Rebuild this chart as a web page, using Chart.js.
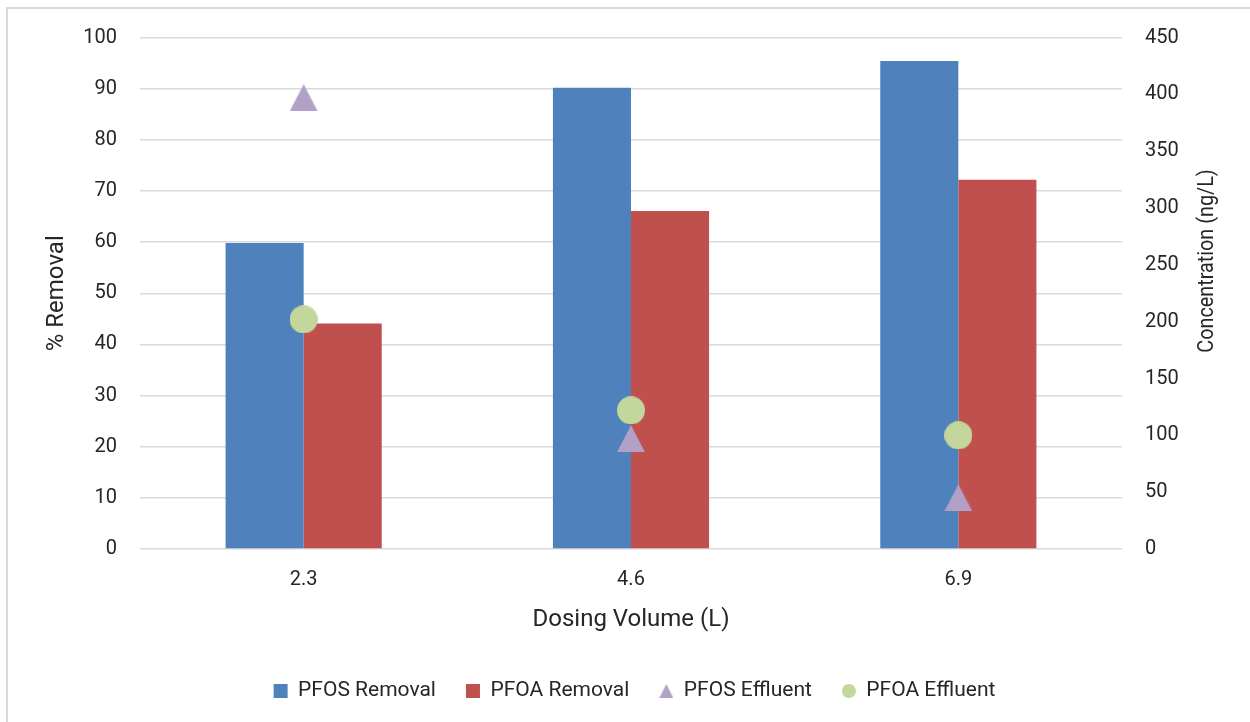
<!DOCTYPE html>
<html><head><meta charset="utf-8">
<script src="https://cdn.jsdelivr.net/npm/chart.js@4"></script>
<style>html,body{margin:0;padding:0;background:#fff}#wrap{width:1250px;height:722px;position:relative}</style>
</head><body><div id="wrap"><canvas id="c"></canvas></div>
<script>
const categories = ['2.3', '4.6', '6.9'];
const pfosRemoval = [59.8, 90.2, 95.4];
const pfoaRemoval = [44.1, 66.1, 72.2];
const pfosEffluent = [397, 97, 45];
const pfoaEffluent = [202, 122, 100];
const seriesNames = ['PFOS Removal', 'PFOA Removal', 'PFOS Effluent', 'PFOA Effluent'];
const leftAxis = {min: 0, max: 100, step: 10, title: '% Removal'};
const rightAxis = {min: 0, max: 450, step: 50, title: 'Concentration (ng/L)'};
const xTitle = 'Dosing Volume (L)';

const C_BLUE = '#4F81BD', C_RED = '#C0504D', C_PURPLE = '#B2A1C7', C_GREEN = '#C3D69B';
const FONT = 'Roboto, "Open Sans", sans-serif';
const TXT = '#262626';

function triCanvas(w, h, color) {
  const c = document.createElement('canvas'); c.width = w; c.height = h;
  const x = c.getContext('2d'); x.fillStyle = color;
  x.beginPath(); x.moveTo(w / 2, 0); x.lineTo(w, h); x.lineTo(0, h); x.closePath(); x.fill();
  return c;
}
function circCanvas(d, color) {
  const c = document.createElement('canvas'); c.width = d; c.height = d;
  const x = c.getContext('2d'); x.fillStyle = color;
  x.beginPath(); x.arc(d / 2, d / 2, d / 2, 0, Math.PI * 2); x.fill();
  return c;
}
const triBig = triCanvas(28, 27, C_PURPLE);
const circBig = circCanvas(28, C_GREEN);
const triSmall = triCanvas(14, 14, C_PURPLE);
const circSmall = circCanvas(14, C_GREEN);

const frame = {
  id: 'frame',
  beforeDraw(chart) {
    const ctx = chart.ctx;
    ctx.save();
    ctx.fillStyle = '#fff'; ctx.fillRect(0, 0, chart.width, chart.height);
    ctx.strokeStyle = '#d9d9d9'; ctx.lineWidth = 2;
    ctx.beginPath(); ctx.moveTo(7, 800); ctx.lineTo(7, 8); ctx.lineTo(1300, 8); ctx.stroke();
    ctx.restore();
  },
  afterDraw(chart) {
    const ctx = chart.ctx;
    ctx.save();
    ctx.translate(1207, 261);
    ctx.rotate(-Math.PI / 2);
    ctx.scale(0.9, 1);
    ctx.fillStyle = TXT;
    ctx.font = '22px ' + FONT;
    ctx.textAlign = 'center'; ctx.textBaseline = 'middle';
    ctx.fillText(rightAxis.title, 0, 0);
    ctx.restore();
  }
};

new Chart(document.getElementById('c'), {
  data: {
    labels: categories,
    datasets: [
      {type: 'bar', label: seriesNames[0], data: pfosRemoval, backgroundColor: C_BLUE, yAxisID: 'y', order: 2,
       barPercentage: 1, categoryPercentage: 0.477},
      {type: 'bar', label: seriesNames[1], data: pfoaRemoval, backgroundColor: C_RED, yAxisID: 'y', order: 2,
       barPercentage: 1, categoryPercentage: 0.477},
      {type: 'line', label: seriesNames[2], data: pfosEffluent, yAxisID: 'y1', showLine: false, order: 1,
       pointStyle: triBig, backgroundColor: C_PURPLE, borderColor: C_PURPLE, pointRadius: 14, pointHoverRadius: 14},
      {type: 'line', label: seriesNames[3], data: pfoaEffluent, yAxisID: 'y1', showLine: false, order: 0,
       pointStyle: circBig, backgroundColor: C_GREEN, borderColor: C_GREEN, pointRadius: 14, pointHoverRadius: 14}
    ]
  },
  options: {
    responsive: true, maintainAspectRatio: false, animation: false,
    layout: {padding: {top: 37.5, left: 19, right: 0, bottom: 10.5}},
    plugins: {
      tooltip: {enabled: false},
      legend: {
        position: 'bottom',
        labels: {
          usePointStyle: true, boxWidth: 14, boxHeight: 14, padding: 30,
          font: {family: FONT, size: 21}, color: TXT,
          generateLabels(chart) {
            const styles = ['rect', 'rect', triSmall, circSmall];
            const cols = [C_BLUE, C_RED, C_PURPLE, C_GREEN];
            return chart.data.datasets.map((d, i) => ({
              text: d.label, fillStyle: cols[i], strokeStyle: cols[i], lineWidth: 0,
              pointStyle: styles[i], datasetIndex: i, hidden: false, fontColor: TXT
            }));
          }
        }
      }
    },
    scales: {
      x: {
        grid: {display: false}, border: {display: false},
        ticks: {font: {family: FONT, size: 20}, color: TXT, padding: 11},
        title: {display: true, text: xTitle, font: {family: FONT, size: 24}, color: TXT, padding: {top: 0, bottom: 16}},
        afterFit(s) { s.height = 101.5; }
      },
      y: {
        position: 'left', min: leftAxis.min, max: leftAxis.max,
        grid: {color: '#d9d9d9', lineWidth: 1.5, drawTicks: false}, border: {display: false},
        ticks: {stepSize: leftAxis.step, font: {family: FONT, size: 20}, color: TXT, padding: 23},
        title: {display: true, text: leftAxis.title, font: {family: FONT, size: 24}, color: TXT, padding: {top: 24, bottom: 0}},
        afterFit(s) { s.width = 121; }
      },
      y1: {
        position: 'right', min: rightAxis.min, max: rightAxis.max,
        grid: {drawOnChartArea: false, drawTicks: false}, border: {display: false},
        ticks: {stepSize: rightAxis.step, font: {family: FONT, size: 20}, color: TXT, padding: 23},
        afterFit(s) { s.width = 128; }
      }
    }
  },
  plugins: [frame]
});
</script>
</body></html>
